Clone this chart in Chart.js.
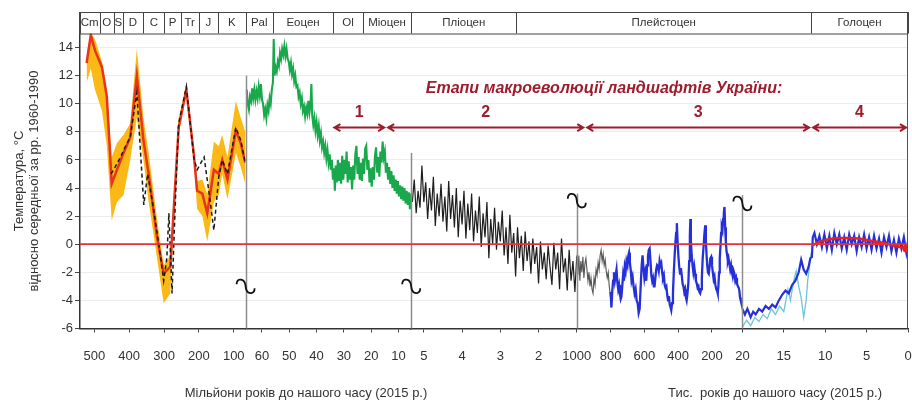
<!DOCTYPE html>
<html><head><meta charset="utf-8">
<script src="https://cdn.jsdelivr.net/npm/chart.js@4.4.1/dist/chart.umd.min.js"></script>
<style>html,body{margin:0;padding:0;background:#fff;}#wrap{width:912px;height:401px;}</style>
</head><body><div id="wrap"><canvas id="c" width="912" height="401"></canvas></div>
<script>
// ---------- tick labels ----------
const yTicks = [-6,-4,-2,0,2,4,6,8,10,12,14];
const ticksX1 = [500,400,300,200,100];          // Ma
const ticksX2 = [60,50,40,30,20,10];            // Ma
const ticksX3 = [5,4,3,2];                      // Ma
const ticksX4 = [1000,800,600,400,200];         // ka
const ticksX5 = [20,15,10,5,0];                 // ka

// ---------- segment 1: Phanerozoic (Ma) ----------
const seg1Age   = [522,510,498,478,464,450,435,416,397,378,359,344,320,301,282,258,236,215,205,190,176,157,143,133,118,94,80,67];
const seg1Red   = [12.9,14.9,13.8,12.6,10.5,4.3,5.3,6.5,7.6,12.0,7.4,5.0,0.5,-2.1,-1.6,8.3,11.0,6.5,3.8,3.6,2.2,5.3,5.0,6.0,4.6,8.1,7.2,5.8];
const seg1Upper = [13.5,15.0,14.6,13.0,11.0,6.2,7.2,7.8,8.6,13.9,9.0,6.5,1.8,-1.5,-0.8,9.0,11.3,7.0,4.5,4.6,3.6,7.3,7.0,7.8,6.2,10.2,9.0,8.0];
const seg1Lower = [11.5,12.5,11.0,9.5,7.0,1.7,3.0,3.5,6.0,9.0,6.0,3.0,-1.0,-4.2,-3.5,7.8,10.7,6.0,2.5,2.0,0.2,3.0,3.5,5.0,3.2,6.5,5.5,4.3];
const dashAge   = [452,440,425,410,397,378,366,358,347,330,315,301,292,286,281,277,266,258,236,214,205,185,170,157,143,133,118,94,80,67];
const dashTemp  = [5.0,5.5,6.2,7.0,7.6,10.8,6.0,2.8,5.0,2.5,0.0,-2.6,-1.0,2.2,-1.0,-3.5,4.0,8.6,11.2,6.1,5.3,6.2,3.5,1.0,4.8,6.0,5.0,8.3,7.4,5.8];

// ---------- segment 2: Cenozoic (Ma) ----------
const greenAge = [65.6,65.2,64.8,64.4,64.0,63.6,63.2,62.8,62.4,62.0,61.6,61.2,60.8,60.4,60.0,59.6,59.2,58.8,58.4,58.0,57.6,57.2,56.8,56.4,56.0,55.7,55.4,55.0,54.6,54.2,53.8,53.4,53.0,52.6,52.2,51.8,51.4,51.0,50.6,50.2,49.8,49.4,49.0,48.6,48.2,47.8,47.4,47.0,46.6,46.2,45.8,45.4,45.0,44.6,44.2,43.8,43.4,43.0,42.6,42.2,41.9,41.6,41.2,40.8,40.4,40.0,39.6,39.2,38.8,38.4,38.0,37.6,37.2,36.8,36.4,36.0,35.6,35.2,34.8,34.4,34.0,33.6,33.3,33.0,32.6,32.2,31.8,31.4,31.0,30.6,30.2,29.8,29.4,29.0,28.6,28.2,27.8,27.4,27.0,26.6,26.2,25.8,25.4,25.0,24.6,24.2,23.8,23.4,23.0,22.6,22.2,21.8,21.4,21.0,20.6,20.2,19.8,19.4,19.0,18.6,18.2,17.8,17.4,17.0,16.6,16.2,15.8,15.4,15.0,14.6,14.2,13.8,13.4,13.0,12.6,12.2,11.8,11.4,11.0,10.6,10.2,9.8,9.4,9.0,8.6,8.2,7.8,7.4,7.0,6.6,6.2,5.8,5.4];
const greenTemp = [11.0,10.0,9.6,10.5,10.2,11.1,10.4,11.0,10.3,10.9,10.4,11.2,10.6,11.4,10.3,10.0,9.2,9.6,9.0,9.9,9.5,10.4,10.0,11.0,11.5,14.6,12.0,12.6,12.3,13.0,12.7,13.6,13.2,13.9,13.5,14.1,13.4,13.9,13.2,13.0,12.4,12.9,12.1,12.5,11.6,12.0,11.2,11.3,10.5,10.8,10.0,10.4,9.5,9.8,9.1,9.7,9.3,10.2,9.4,10.0,11.4,9.2,8.5,9.0,8.1,8.7,7.8,8.4,7.4,7.9,6.9,7.3,6.5,7.0,6.1,6.7,5.8,6.4,5.3,6.0,4.6,5.4,3.8,5.6,4.4,6.0,4.5,5.8,4.3,6.3,4.6,6.0,5.0,6.6,4.4,5.9,4.6,5.5,3.9,5.6,4.6,6.4,7.0,5.0,6.2,4.6,5.8,4.5,6.1,5.0,6.8,7.0,5.3,6.0,4.4,5.4,4.1,5.5,4.6,6.3,6.9,5.1,6.2,4.8,6.6,5.8,7.3,6.2,6.6,5.1,5.8,4.6,5.5,4.3,5.2,4.0,4.9,3.8,4.6,3.6,4.5,3.4,4.2,3.2,4.1,3.1,4.0,2.9,3.8,2.8,3.7,2.5,3.6];

// ---------- segment 3: Pliocene-Early Pleistocene (Ma) ----------
const blackAge = [5.30,5.25,5.20,5.15,5.10,5.05,5.00,4.95,4.90,4.85,4.80,4.75,4.70,4.65,4.60,4.55,4.50,4.45,4.40,4.35,4.30,4.25,4.20,4.15,4.10,4.05,4.00,3.95,3.90,3.85,3.80,3.75,3.70,3.65,3.60,3.55,3.50,3.45,3.40,3.35,3.30,3.25,3.20,3.15,3.10,3.05,3.00,2.95,2.90,2.85,2.80,2.75,2.70,2.65,2.60,2.55,2.50,2.45,2.40,2.35,2.30,2.25,2.20,2.15,2.10,2.05,2.00,1.95,1.90,1.85,1.80,1.75,1.70,1.65,1.60,1.55,1.50,1.45,1.40,1.35,1.30,1.25,1.20,1.15,1.10,1.05,1.00];
const blackTemp = [3.0,4.6,2.2,3.8,2.6,5.6,3.0,4.4,1.8,4.0,2.4,4.8,1.3,3.6,2.0,4.3,1.6,3.4,0.9,4.5,1.8,3.5,1.2,4.0,0.5,3.1,1.4,3.8,0.4,2.9,1.0,3.6,0.2,2.4,0.8,3.4,-0.2,2.2,0.5,3.0,-1.0,1.8,0.0,2.6,-0.4,1.6,0.2,2.4,-0.8,1.2,-1.4,2.1,-0.6,0.8,-2.3,1.2,-1.0,0.6,-1.9,0.9,-1.2,0.2,-2.1,0.4,-1.4,-0.2,-2.8,0.2,-1.8,-0.6,-2.5,-0.1,-1.6,-2.9,0.1,-1.8,-0.6,-3.2,0.4,-2.0,-1.0,-3.3,-0.4,-2.6,-1.2,-3.4,-0.8];

// ---------- segment 4: 1000-20 ka ----------
const grayAge  = [1000,994,988,982,976,970,964,958,952,946,940,934,928,922,916,910,904,898,892,886,880,874,868,862,856,850,844,838,832,826,820,814,808,802,796];
const grayTemp = [-0.6,-2.2,-0.8,-2.6,-1.2,-2.0,-0.9,-2.4,-1.4,-1.0,-1.8,-2.6,-2.0,-3.0,-2.4,-3.2,-3.5,-2.4,-2.9,-1.8,-2.2,-1.3,-1.8,-0.8,-0.4,-1.2,-0.7,-1.5,-1.1,-1.9,-2.4,-2.0,-3.0,-3.6,-4.5];
const blueAge  = [800,795,790,785,780,775,770,765,760,755,750,745,740,736,731,726,721,716,711,706,700,695,691,686,681,676,670,664,658,652,646,640,634,628,622,616,611,606,600,595,589,584,579,574,569,564,559,554,549,544,540,535,530,525,520,515,510,505,500,495,490,485,480,475,470,465,460,455,450,445,441,436,431,426,421,416,412,408,404,399,394,389,384,379,374,369,364,359,354,350,345,340,335,331,328,325,320,315,310,305,300,295,290,285,280,275,270,265,260,255,250,245,240,236,232,228,224,219,214,210,205,200,195,190,185,180,175,170,166,162,158,154,150,146,142,138,134,130,126,122,118,114,110,106,102,97,92,87,82,77,72,67,62,57,52,47,42,38,34,30,26,22,20];
const blueTemp = [-3.4,-4.5,-3.3,-2.6,-2.0,-2.6,-2.2,-1.8,-2.7,-3.2,-2.9,-3.5,-3.9,-3.75,-3.0,-2.2,-2.6,-1.6,-1.9,-1.2,-1.5,-0.8,-0.6,-1.3,-1.8,-2.6,-2.3,-3.0,-3.5,-3.2,-4.0,-4.2,-4.9,-4.6,-3.0,-1.5,-0.8,-1.6,-2.4,-2.0,-2.6,-1.5,-0.9,-0.4,-0.3,-1.2,-2.2,-2.6,-2.4,-3.0,-3.0,-2.4,-1.8,-1.5,-1.6,-1.9,-1.2,-1.5,-1.35,-2.0,-2.4,-2.2,-2.9,-3.1,-3.0,-3.6,-4.0,-3.7,-4.3,-4.5,-4.7,-4.2,-3.5,-2.0,-0.8,0.2,0.8,1.5,0.3,-0.8,-1.6,-2.1,-1.7,-2.2,-2.8,-3.0,-3.4,-3.2,-3.8,-4.0,-3.5,-2.8,-1.2,0.6,1.8,0.3,-0.8,-1.5,-2.0,-1.6,-2.1,-2.6,-2.8,-3.1,-3.0,-3.4,-3.5,-3.2,-2.4,-1.0,-0.2,0.7,1.35,0.2,-0.8,-1.5,-2.0,-2.1,-1.6,-1.0,-0.9,-1.5,-2.0,-2.5,-2.3,-2.9,-3.2,-3.3,-3.5,-3.0,-2.0,-1.0,-0.2,0.8,1.2,1.0,1.8,2.2,2.65,1.2,0.2,-0.5,-0.8,-1.2,-1.0,-1.4,-1.8,-1.5,-2.0,-2.3,-1.9,-2.1,-2.6,-2.4,-2.8,-3.0,-3.1,-3.3,-3.8,-4.0,-4.2,-4.4,-4.5];

// ---------- segment 5: 20-0 ka ----------
const holoAge  = [20,19.7,19.4,19.0,18.7,18.4,18.0,17.6,17.2,16.8,16.4,16.0,15.6,15.2,14.8,14.4,14.0,13.6,13.2,12.9,12.6,12.3,12.0,11.8,11.6,11.5,11.3,11.0,10.7,10.4,10.1,9.8,9.5,9.2,8.9,8.6,8.3,8.0,7.7,7.4,7.1,6.8,6.5,6.2,5.9,5.6,5.3,5.0,4.7,4.4,4.1,3.8,3.5,3.2,2.9,2.6,2.3,2.0,1.7,1.4,1.1,0.8,0.5,0.2,0.0];
const holoTemp = [-4.6,-5.0,-4.6,-5.2,-4.8,-5.0,-4.6,-4.8,-4.4,-4.6,-4.3,-4.5,-4.0,-3.6,-3.3,-3.5,-2.9,-2.6,-2.0,-1.1,-1.8,-2.1,-1.6,-1.0,-0.9,0.5,0.8,0.0,0.6,-0.2,0.7,-0.3,0.6,-0.4,0.8,0.0,0.7,-0.3,0.5,-0.4,0.7,0.0,0.6,-0.5,0.5,-0.2,0.7,-0.3,0.5,-0.4,0.6,-0.3,0.4,-0.6,0.5,-0.2,0.6,-0.5,0.3,-0.6,0.4,-0.3,0.5,-0.6,0.2];
const cyanAge  = [20,19.5,19.0,18.5,18.0,17.5,17.0,16.5,16.0,15.5,15.0,14.5,14.2,13.8,13.5,13.2,12.9,12.6,12.3,12.1,11.9,11.7];
const cyanTemp = [-5.9,-5.4,-5.8,-5.2,-5.5,-5.0,-5.3,-4.6,-5.0,-4.4,-4.8,-3.2,-4.0,-2.6,-1.9,-3.0,-3.8,-5.2,-4.0,-2.5,-1.6,-0.6];
const holoRedAge  = [11.6,11,10,9,8,7,6,5,4,3,2,1,0.2];
const holoRedTemp = [-0.1,0.1,0.3,0.4,0.45,0.45,0.4,0.3,0.2,0.1,-0.05,-0.2,-0.3];

// ---------- geological header & stages ----------
const periodNames  = ['Cm','O','S','D','C','P','Tr','J','K','Pal','Еоцен','Ol','Міоцен','Пліоцен','Плейстоцен','Голоцен'];
const periodBounds = [['x1',541],['x1',485],['x1',443],['x1',419],['x1',359],['x1',299],['x1',252],['x1',201],['x1',145],['x2',66],['x2',56],['x2',33.9],['x2',23],['x3',5.33],['x3',2.58],['x5',11.7],['x5',0]];
const stageLabels  = ['1','2','3','4'];
const stageBounds  = [['x2',34.2],['x2',14.5],['x4',950],['x5',11.7],['x5',0]];
const stageTitle   = 'Етапи макроеволюції ландшафтів України:';
const segBreaks    = [['x2',66],['x3',5.33],['x4',1000],['x5',20]];
const breakTops    = [12,6.5,3.6,3.5];
const breakMarks   = [-3,-3,3.1,2.9];
const xTitles      = ['Мільйони років до нашого часу (2015 р.)','Тис.  років до нашого часу (2015 р.)'];

Chart.defaults.font.family = "'Liberation Sans', Arial, sans-serif";
Chart.defaults.color = '#333';

const pts = (a, t) => a.slice(0, Math.min(a.length, t.length)).map((x, i) => ({x, y: t[i]}));
function line(axis, a, t, color, width, extra) {
  return Object.assign({xAxisID: axis, yAxisID: 'y', data: pts(a, t), borderColor: color,
    borderWidth: width, pointRadius: 0, fill: false, tension: 0}, extra || {});
}

function xAxis(min, max, ticks) {
  return {
    type: 'linear', position: 'bottom', stack: 'time', stackWeight: 1,
    min, max, reverse: true, offset: false,
    afterBuildTicks: a => { a.ticks = ticks.map(v => ({value: v})); },
    afterFit: a => { a.height = 72.5; a.paddingLeft = 0; a.paddingRight = 0; },
    grid: {display: true, drawOnChartArea: false, drawTicks: true, tickLength: 4, tickColor: '#444', tickWidth: 1},
    border: {display: true, color: '#333', width: 1.5},
    ticks: {autoSkip: false, maxRotation: 0, minRotation: 0, padding: 16, font: {size: 13}, color: '#333',
      callback: v => String(v)}
  };
}

function drawBreak(ctx, x, y) {
  ctx.save();
  ctx.strokeStyle = '#111'; ctx.lineWidth = 1.8;
  ctx.beginPath();
  ctx.moveTo(x - 9, y - 2);
  ctx.bezierCurveTo(x - 9, y - 8, x - 3, y - 8, x - 1, y - 4);
  ctx.bezierCurveTo(x + 0.5, y - 1, x - 0.5, y + 1, x + 1, y + 4);
  ctx.bezierCurveTo(x + 3, y + 8, x + 9, y + 8, x + 9, y + 2);
  ctx.stroke();
  ctx.restore();
}

function arrow(ctx, x1, x2, y) {
  ctx.beginPath();
  ctx.moveTo(x1, y); ctx.lineTo(x2, y);
  ctx.moveTo(x1 + 6, y - 3.5); ctx.lineTo(x1, y); ctx.lineTo(x1 + 6, y + 3.5);
  ctx.moveTo(x2 - 6, y - 3.5); ctx.lineTo(x2, y); ctx.lineTo(x2 - 6, y + 3.5);
  ctx.stroke();
}

const annot = {
  id: 'annot',
  afterDatasetsDraw(chart) {
    const {ctx, chartArea: ca, scales} = chart;
    const X = b => scales[b[0]].getPixelForValue(b[1]);
    const Y = v => scales.y.getPixelForValue(v);
    ctx.save();
    ctx.lineWidth = 1.5; ctx.strokeStyle = '#8c8c8c';
    segBreaks.forEach((b, i) => {
      const x = Math.round(X(b)) + 0.5;
      ctx.beginPath(); ctx.moveTo(x, Y(breakTops[i])); ctx.lineTo(x, ca.bottom); ctx.stroke();
    });
    ctx.strokeStyle = '#e3323c'; ctx.lineWidth = 1.8;
    ctx.beginPath(); ctx.moveTo(ca.left, Y(0)); ctx.lineTo(ca.right, Y(0)); ctx.stroke();
    segBreaks.forEach((b, i) => drawBreak(ctx, X(b), Y(breakMarks[i])));
    ctx.strokeStyle = '#555'; ctx.lineWidth = 1;
    ctx.beginPath(); ctx.moveTo(ca.right - 0.5, ca.top); ctx.lineTo(ca.right - 0.5, ca.bottom); ctx.stroke();
    ctx.restore();
  },
  afterDraw(chart) {
    const {ctx, chartArea: ca, scales} = chart;
    const X = b => scales[b[0]].getPixelForValue(b[1]);
    const Y = v => scales.y.getPixelForValue(v);
    ctx.save();
    const hTop = ca.top - 21.5, hBot = ca.top;
    ctx.strokeStyle = '#444'; ctx.lineWidth = 1;
    ctx.strokeRect(ca.left - 0.5, hTop + 0.5, ca.right - ca.left, hBot - hTop);
    const bx = periodBounds.map(X);
    ctx.beginPath();
    bx.forEach(x => { ctx.moveTo(Math.round(x) + 0.5, hTop); ctx.lineTo(Math.round(x) + 0.5, hBot); });
    ctx.stroke();
    ctx.fillStyle = '#333'; ctx.font = "11.5px 'Liberation Sans', Arial, sans-serif";
    ctx.textAlign = 'center'; ctx.textBaseline = 'middle';
    periodNames.forEach((n, i) => ctx.fillText(n, (bx[i] + bx[i + 1]) / 2, (hTop + hBot) / 2 + 0.5));
    const sc = '#9e1c2c';
    ctx.strokeStyle = sc; ctx.fillStyle = sc; ctx.lineWidth = 2;
    const sx = stageBounds.map(X);
    ctx.font = "bold 16px 'Liberation Sans', Arial, sans-serif";
    stageLabels.forEach((l, i) => {
      const x1 = sx[i] + 2, x2 = sx[i + 1] - 2;
      arrow(ctx, x1, x2, Y(8.3));
      ctx.fillText(l, (x1 + x2) / 2, Y(9.35));
    });
    ctx.font = "italic bold 16px 'Liberation Sans', Arial, sans-serif";
    ctx.fillText(stageTitle, 604, Y(11.1));
    ctx.fillStyle = '#333'; ctx.font = "13px 'Liberation Sans', Arial, sans-serif";
    ctx.fillText(xTitles[0], 306, 393);
    ctx.fillText(xTitles[1], 775, 393);
    ctx.restore();
  }
};

const datasets = [
  line('x1', seg1Age, seg1Upper, 'rgba(0,0,0,0)', 0, {fill: '+1', backgroundColor: '#fbb917', order: 10}),
  line('x1', seg1Age, seg1Lower, 'rgba(0,0,0,0)', 0, {order: 11}),
  line('x1', seg1Age, seg1Red, '#e8341c', 2.5, {order: 3}),
  line('x1', dashAge, dashTemp, '#1a1a1a', 1.5, {borderDash: [4, 3], order: 2}),
  line('x2', greenAge, greenTemp, '#19a84b', 2.1, {order: 5}),
  line('x3', blackAge, blackTemp, '#1e1e1e', 1.2, {order: 5}),
  line('x4', grayAge, grayTemp, '#555555', 1.1, {order: 5}),
  line('x4', blueAge, blueTemp, '#2530d8', 2.3, {order: 4}),
  line('x5', cyanAge, cyanTemp, '#6cc5d8', 1.3, {order: 6}),
  line('x5', holoAge, holoTemp, '#2530d8', 2.2, {order: 4}),
  line('x5', holoRedAge, holoRedTemp, '#e82020', 2.5, {order: 1,
    pointRadius: ctx => ctx.dataIndex === holoRedAge.length - 1 ? 4 : 0, pointBackgroundColor: '#e82020', pointBorderWidth: 0})
];

new Chart(document.getElementById('c'), {
  type: 'line',
  data: {datasets},
  options: {
    responsive: false, animation: false, devicePixelRatio: 1,
    layout: {padding: {top: 33.5, right: 4, left: 0, bottom: 0}},
    plugins: {legend: {display: false}, title: {display: false}, tooltip: {enabled: false}},
    scales: {
      x1: xAxis(66, 541, ticksX1),
      x2: xAxis(5.33, 66, ticksX2),
      x3: xAxis(1, 5.33, ticksX3),
      x4: xAxis(20, 1000, ticksX4),
      x5: xAxis(0, 20, ticksX5),
      y: {
        type: 'linear', position: 'left', min: -6, max: 15,
        afterBuildTicks: a => { a.ticks = yTicks.map(v => ({value: v})); },
        afterFit: a => { a.width = 80; a.paddingTop = 0; a.paddingBottom = 0; },
        grid: {color: '#ececec', lineWidth: 1, drawTicks: true, tickLength: 5, tickColor: '#444'},
        border: {display: true, color: '#333', width: 1.5},
        ticks: {padding: 2, font: {size: 13}, color: '#333'},
        title: {display: true, text: ['Температура, °C', 'відносно середньої за рр. 1960-1990'],
          font: {size: 13, lineHeight: 1.15}, color: '#333', padding: {top: 11.5, bottom: 0}}
      }
    }
  },
  plugins: [annot]
});
</script></body></html>
